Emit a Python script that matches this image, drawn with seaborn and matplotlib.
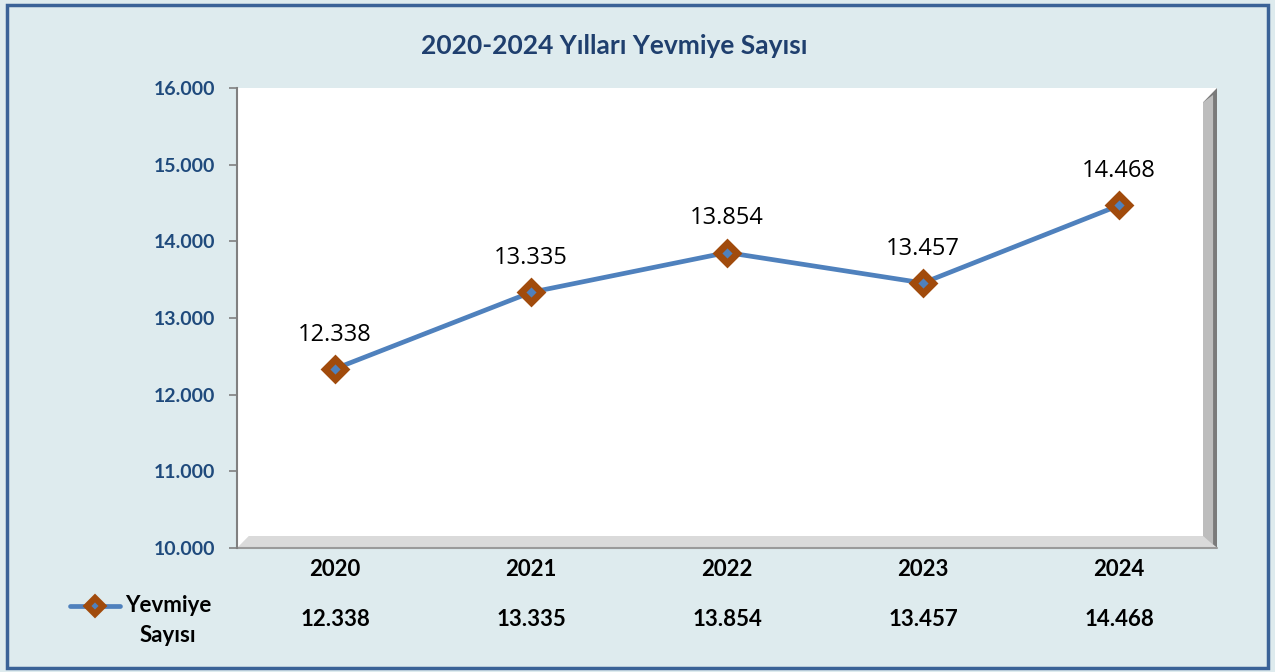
import matplotlib
matplotlib.use("Agg")
import matplotlib.pyplot as plt
import seaborn as sns
import pandas as pd
import numpy as np
from matplotlib.patches import Rectangle, Polygon
from matplotlib.lines import Line2D

years = ["2020", "2021", "2022", "2023", "2024"]
values = [12338, 13335, 13854, 13457, 14468]
series_name = "Yevmiye Sayısı"
title = "2020-2024 Yılları Yevmiye Sayısı"
y_ticks = [10000, 11000, 12000, 13000, 14000, 15000, 16000]

def fmt(v):
    return f"{v:,}".replace(",", ".")

sns.set_theme(style="white")
plt.rcParams['font.family'] = ['Lato', 'DejaVu Sans']

BG = "#DEEBEE"
fig = plt.figure(figsize=(12.75, 6.72), dpi=100, facecolor=BG)
# outer border
fig.patches.append(Rectangle((7/1275, 1-668/672), 1261/1275, 663/672, transform=fig.transFigure,
                             fill=False, edgecolor="#3A6297", linewidth=2.5))

ax = fig.add_axes([237/1275, 1-548/672, (1217-237)/1275, (548-88)/672])
ax.set_facecolor("white")

df = pd.DataFrame({"x": np.arange(len(years)), "y": values})
sns.lineplot(data=df, x="x", y="y", ax=ax, color="#4F81BD", linewidth=3.4,
             marker="D", markersize=10, markerfacecolor="#4F81BD",
             markeredgecolor="#A14B0C", markeredgewidth=5, zorder=5)

ax.set_xlim(-0.5, len(years) - 0.5)
ax.set_ylim(y_ticks[0], y_ticks[-1])
ax.set_yticks(y_ticks)
ax.set_yticklabels([fmt(t) for t in y_ticks], fontsize=14, fontweight="bold", color="#1F4A7C")
ax.set_xticks([])
ax.set_xlabel("")
ax.set_ylabel("")
ax.tick_params(axis="y", length=6, width=1.2, color="#808080", pad=10, left=True)
for s in ["top", "right", "bottom"]:
    ax.spines[s].set_visible(False)
ax.spines["left"].set_color("#808080")
ax.spines["left"].set_linewidth(1.5)

# bevel shading (right and bottom)
tr = ax.transAxes
w_r = 14/980
h_b = 12/460
ax.add_patch(Polygon([(1, 0), (1, 1), (1 - w_r, 1 - h_b * 1.2), (1 - w_r, h_b)], closed=True,
                     transform=tr, facecolor="#7A7A7A", edgecolor="none", clip_on=False, zorder=1))
ax.add_patch(Polygon([(1-0.004, 0), (1-0.004, 0.985), (1 - w_r, 1 - h_b * 1.2), (1 - w_r, h_b)], closed=True,
                     transform=tr, facecolor="#BDBDBD", edgecolor="none", clip_on=False, zorder=1))
ax.add_patch(Polygon([(0, 0), (1, 0), (1 - w_r, h_b), (0.012, h_b)], closed=True,
                     transform=tr, facecolor="#DADADA", edgecolor="none", clip_on=False, zorder=1))
ax.add_line(Line2D([0, 1], [0, 0], transform=tr, color="#9A9A9A", linewidth=1.5, clip_on=False, zorder=2))

# data labels
for i, v in enumerate(values):
    ax.annotate(fmt(v), (i, v), xytext=(0, 16), textcoords="offset points",
                ha="center", va="bottom", fontsize=17, color="black", family=["Open Sans", "DejaVu Sans"])

# title
fig.text(614/1275, 1-46/672, title, ha="center", va="center", fontsize=19, fontweight="bold", color="#1F3F6E")

# x category labels and data table
for i, (yr, v) in enumerate(zip(years, values)):
    xf = (237 + 196 * (i + 0.5)) / 1275
    fig.text(xf, 1-569/672, yr, ha="center", va="center", fontsize=16, fontweight="bold", color="black")
    fig.text(xf, 1-620/672, fmt(v), ha="center", va="center", fontsize=16, fontweight="bold", color="black")

# legend key in table
fig.lines.append(Line2D([70/1275, 120/1275], [1-606/672, 1-606/672], transform=fig.transFigure,
                        color="#4F81BD", linewidth=3.4))
fig.lines.append(Line2D([95/1275], [1-606/672], transform=fig.transFigure, marker="D", markersize=8,
                        markerfacecolor="#4F81BD", markeredgecolor="#A14B0C", markeredgewidth=4.5, linestyle="none"))
fig.text(168/1275, 1-606/672, "Yevmiye", ha="center", va="center", fontsize=16, fontweight="bold", color="black")
fig.text(168/1275, 1-635/672, "Sayısı", ha="center", va="center", fontsize=16, fontweight="bold", color="black")

fig.savefig("out.png", dpi=100, facecolor=BG)
